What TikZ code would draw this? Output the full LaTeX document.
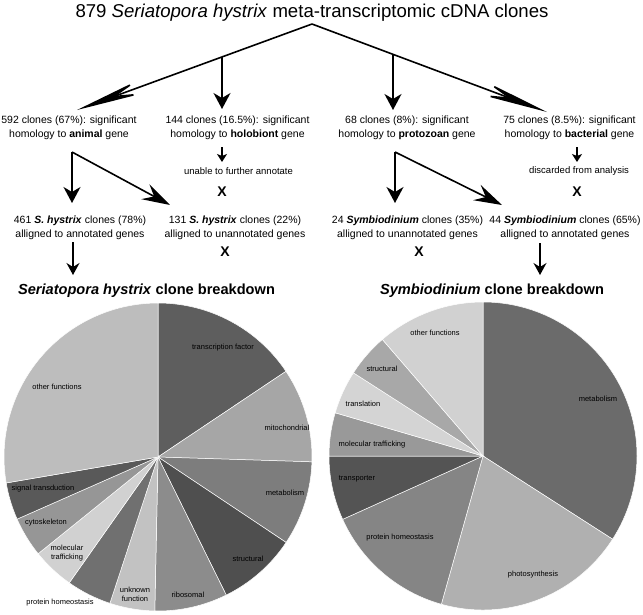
\documentclass[tikz,border=0pt]{standalone}
\usepackage{fontspec}
\setmainfont{Liberation Sans}
\usetikzlibrary{arrows.meta}

\tikzset{
  flowtext/.style={align=center, inner sep=0pt, font=\fontsize{10.5}{13.5}\selectfont},
  endtext/.style={align=center, inner sep=0pt, font=\fontsize{9.5}{12}\selectfont},
  pielabel/.style={align=center, inner sep=0pt, font=\fontsize{7.5}{9}\selectfont},
  xmark/.style={inner sep=0pt, font=\fontsize{14}{14}\selectfont\bfseries},
  pietitle/.style={inner sep=0pt, anchor=base, font=\fontsize{14.6}{16}\selectfont\bfseries},
  longarrow/.style={line width=1.6pt, -{Stealth[length=68pt,width=14pt,inset=26pt]}},
  forkarrow/.style={line width=1.6pt, -{Stealth[length=28pt,width=17pt,inset=10pt]}},
  downarrow/.style={line width=1.6pt, -{Stealth[length=16pt,width=17pt,inset=5pt]}},
  smallarrow/.style={line width=1.2pt, -{Stealth[length=8pt,width=10pt,inset=2pt]}},
  piearrow/.style={line width=1.4pt, -{Stealth[length=12pt,width=13pt,inset=4pt]}},
}

\begin{document}
\begin{tikzpicture}[x=1pt, y=-1pt]
\useasboundingbox (0,0) rectangle (643,614);

% Title
\node[anchor=base, inner sep=0pt, font=\fontsize{18.6}{20}\selectfont] (title) at (312,17)
  {879 \textit{Seriatopora hystrix} meta-transcriptomic cDNA clones};

% Homology groups
\node[flowtext] (animal) at (69,128) {592 clones (67\%): significant\\homology to \textbf{animal} gene};
\node[flowtext] (holobiont) at (237.5,128) {144 clones (16.5\%): significant\\homology to \textbf{holobiont} gene};
\node[flowtext] (protozoan) at (407,128) {68 clones (8\%): significant\\homology to \textbf{protozoan} gene};
\node[flowtext] (bacterial) at (569.5,128) {75 clones (8.5\%): significant\\homology to \textbf{bacterial} gene};

\coordinate (apex) at (312,24);
\coordinate (animaltip) at (77,110);
\coordinate (bacttip) at (547,112);
\coordinate (holofoot) at (222,57);
\coordinate (holotip) at (222,109);
\coordinate (protofoot) at (393,54);
\coordinate (prototip) at (393,110);

\draw[longarrow] (apex) -- (animaltip);
\draw[longarrow] (apex) -- (bacttip);
\draw[downarrow] (holofoot) -- (holotip);
\draw[downarrow] (protofoot) -- (prototip);

% Dead ends
\coordinate (holoa) at (222,147);
\coordinate (holob) at (222,162);
\coordinate (bacta) at (577,147);
\coordinate (bactb) at (577,162);
\draw[smallarrow] (holoa) -- (holob);
\draw[smallarrow] (bacta) -- (bactb);
\node[endtext] (unable) at (238.5,171) {unable to further annotate};
\node[endtext] (discard) at (579,171) {discarded from analysis};
\node[xmark] (xholo) at (222,192) {X};
\node[xmark] (xbact) at (577,192) {X};

% Annotation split
\node[flowtext] (shanno) at (80,228) {461 \textbf{\textit{S. hystrix}} clones (78\%)\\alligned to annotated genes};
\node[flowtext] (shunanno) at (235,228) {131 \textbf{\textit{S. hystrix}} clones (22\%)\\alligned to unannotated genes};
\node[flowtext] (symunanno) at (407.5,228) {24 \textbf{\textit{Symbiodinium}} clones (35\%)\\alligned to unannotated genes};
\node[flowtext] (symanno) at (565,228) {44 \textbf{\textit{Symbiodinium}} clones (65\%)\\alligned to annotated genes};

\coordinate (animalfork) at (72,152);
\coordinate (shannotip) at (72,203);
\coordinate (shunannotip) at (170,205);
\coordinate (protofork) at (395,152);
\coordinate (symunannotip) at (395,203);
\coordinate (symannotip) at (502,205);
\draw[downarrow] (animalfork) -- (shannotip);
\draw[forkarrow] (animalfork) -- (shunannotip);
\draw[downarrow] (protofork) -- (symunannotip);
\draw[forkarrow] (protofork) -- (symannotip);

\node[xmark] (xshun) at (225,252) {X};
\node[xmark] (xsymun) at (419,252) {X};

% Pie titles
\coordinate (sharrowa) at (73,242);
\coordinate (sharrowb) at (73,275);
\coordinate (symarrowa) at (540,243);
\coordinate (symarrowb) at (540,275);
\draw[piearrow] (sharrowa) -- (sharrowb);
\draw[piearrow] (symarrowa) -- (symarrowb);
\node[pietitle] (shtitle) at (146.5,294) {\textit{Seriatopora hystrix} clone breakdown};
\node[pietitle] (symtitle) at (492,294) {\textit{Symbiodinium} clone breakdown};

% Seriatopora pie
\begin{scope}[shift={(158,457)}]
\foreach \a/\b/\c in {90/33.8/63, 33.8/-1.8/35, -1.8/-33.7/51, -33.7/-63.7/69,
  -63.7/-91.2/45, -91.2/-108.2/24, -108.2/-125.2/56, -125.2/-141.1/18,
  -141.1/-156.2/41, -156.2/-170.3/65, -170.3/-270/26}
  \filldraw[fill=black!\c, draw=white, line width=0.5pt]
    (0,0) -- (\a:154pt) arc[start angle=\a, end angle=\b, radius=154pt] -- cycle;
\end{scope}

\node[pielabel] (shtf) at (223,348) {transcription factor};
\node[pielabel] (shmito) at (287,428) {mitochondrial};
\node[pielabel] (shmeta) at (285,493) {metabolism};
\node[pielabel] (shstruct) at (248,559) {structural};
\node[pielabel] (shribo) at (188,595) {ribosomal};
\node[pielabel] (shunknown) at (135,594) {unknown\\function};
\node[pielabel] (shprot) at (60,603) {protein homeostasis};
\node[pielabel] (shtraff) at (67,553) {molecular\\trafficking};
\node[pielabel] (shcyto) at (46,523) {cytoskeleton};
\node[pielabel] (shsignal) at (43,489) {signal transduction};
\node[pielabel] (shother) at (57,387) {other functions};

% Symbiodinium pie
\begin{scope}[shift={(483,456)}]
\foreach \a/\b/\c in {90/-32.7/58, -32.7/-105.7/31, -105.7/-155.7/48,
  -155.7/-180/67, -180/-196.3/40, -196.3/-212.7/17, -212.7/-229.2/34,
  -229.2/-270/18}
  \filldraw[fill=black!\c, draw=white, line width=0.5pt]
    (0,0) -- (\a:154pt) arc[start angle=\a, end angle=\b, radius=154pt] -- cycle;
\end{scope}

\node[pielabel] (symother) at (435,333) {other functions};
\node[pielabel] (symstruct) at (382,369) {structural};
\node[pielabel] (symtrans) at (363,404) {translation};
\node[pielabel] (symtraff) at (372,445) {molecular trafficking};
\node[pielabel] (symtransp) at (357,479) {transporter};
\node[pielabel] (symprot) at (400,538) {protein homeostasis};
\node[pielabel] (symphoto) at (533,575) {photosynthesis};
\node[pielabel] (symmeta) at (598,399) {metabolism};

\end{tikzpicture}
\end{document}
